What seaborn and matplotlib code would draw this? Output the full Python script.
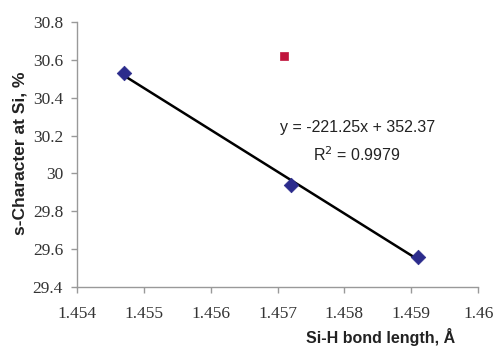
import matplotlib
matplotlib.use("Agg")
import matplotlib.pyplot as plt
import seaborn as sns
import numpy as np
import pandas as pd

# Data
fit_x = [1.4547, 1.4572, 1.4591]
fit_y = [30.53, 29.94, 29.56]
outlier_x = [1.4571]
outlier_y = [30.62]
slope = -221.25
intercept = 352.37
eq_text = "y = -221.25x + 352.37"
r2_text = "R$^2$ = 0.9979"
x_ticks = [1.454, 1.455, 1.456, 1.457, 1.458, 1.459, 1.46]
x_tick_labels = ["1.454", "1.455", "1.456", "1.457", "1.458", "1.459", "1.46"]
y_ticks = [29.4, 29.6, 29.8, 30.0, 30.2, 30.4, 30.6, 30.8]
y_tick_labels = ["29.4", "29.6", "29.8", "30", "30.2", "30.4", "30.6", "30.8"]

sns.set_style("white")
plt.rcParams['font.family'] = ['Liberation Sans', 'DejaVu Sans']

fig = plt.figure(figsize=(4.93, 3.49), dpi=100)
ax = fig.add_axes([0.156, 0.178, 0.814, 0.759])

# trendline
line_x = np.array([min(fit_x), max(fit_x)])
line_df = pd.DataFrame({"x": line_x, "y": slope * line_x + intercept})
sns.lineplot(data=line_df, x="x", y="y", ax=ax, color="black", linewidth=1.8, zorder=2)

df1 = pd.DataFrame({"x": fit_x, "y": fit_y})
sns.scatterplot(data=df1, x="x", y="y", ax=ax, marker="D", s=55, color="#2B2B8C",
                edgecolor="#2B2B8C", linewidth=0.5, zorder=3)
df2 = pd.DataFrame({"x": outlier_x, "y": outlier_y})
sns.scatterplot(data=df2, x="x", y="y", ax=ax, marker="s", s=38, color="#C0143C",
                edgecolor="#C0143C", linewidth=0.5, zorder=3)

ax.set_xlim(1.454, 1.46)
ax.set_ylim(29.4, 30.8)
ax.set_xticks(x_ticks)
ax.set_xticklabels(x_tick_labels, family="Liberation Serif", fontsize=12.5, color="#333333")
ax.set_yticks(y_ticks)
ax.set_yticklabels(y_tick_labels, family="Liberation Serif", fontsize=12.5, color="#333333")

for s in ["top", "right"]:
    ax.spines[s].set_visible(False)
for s in ["left", "bottom"]:
    ax.spines[s].set_color("#999999")
    ax.spines[s].set_linewidth(1.0)
ax.tick_params(axis="both", direction="out", length=4, width=1.0, color="#999999", pad=6,
               bottom=True, left=True)
ax.tick_params(axis="x", pad=10)

ax.set_xlabel("")
ax.set_ylabel("")
fig.text(381 / 493, 3 / 349, "Si-H bond length, Å", ha="center", va="bottom",
         fontsize=11.5, fontweight="bold", color="#222222")
fig.text(20 / 493, 1 - 153 / 349, "s-Character at Si, %", ha="center", va="center",
         rotation=90, fontsize=12.5, fontweight="bold", color="#222222")

ax.text(1.45819, 30.24, eq_text, ha="center", va="center", fontsize=11.5, color="#222222")
ax.text(1.45819, 30.10, r2_text, ha="center", va="center", fontsize=11.5, color="#222222")

fig.savefig("out.png", dpi=100)
